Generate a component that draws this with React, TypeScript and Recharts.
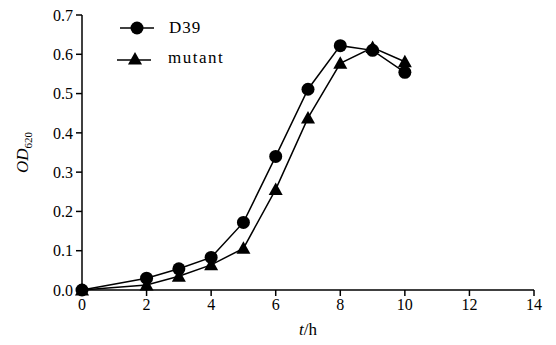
import React from 'react';
import { LineChart, Line, XAxis, YAxis } from 'recharts';

const hours = [0, 2, 3, 4, 5, 6, 7, 8, 9, 10];
const d39 = [0, 0.03, 0.054, 0.083, 0.172, 0.34, 0.511, 0.622, 0.61, 0.554];
const mutant = [0, 0.013, 0.035, 0.064, 0.106, 0.256, 0.438, 0.577, 0.617, 0.581];
const xTicks = [0, 2, 4, 6, 8, 10, 12, 14];
const yTicks = [0, 0.1, 0.2, 0.3, 0.4, 0.5, 0.6, 0.7];

const data = hours.map((h, i) => ({ t: h, d39: d39[i], mutant: mutant[i] }));

const FONT = '"Liberation Serif", "Times New Roman", serif';
const tickStyle = { fontSize: 16, fill: '#000', fontFamily: FONT };

const Triangle = (props: any) => {
  const { cx, cy, index } = props;
  if (cx == null || cy == null) return null;
  return (
    <path
      key={`tri-${index}`}
      d={`M${cx},${cy - 7} L${cx + 7},${cy + 5.5} L${cx - 7},${cy + 5.5} Z`}
      fill="#000"
    />
  );
};

const Dot = (props: any) => {
  const { cx, cy, index } = props;
  if (cx == null || cy == null) return null;
  return <circle key={`dot-${index}`} cx={cx} cy={cy} r={6.5} fill="#000" />;
};

const LegendBox = () => (
  <div
    style={{
      position: 'absolute',
      left: 117,
      top: 13,
      fontFamily: FONT,
      fontSize: 17,
      color: '#000',
      lineHeight: '20px',
    }}
  >
    <div style={{ display: 'flex', alignItems: 'center', height: 30 }}>
      <svg width={40} height={20}>
        <line x1={3} y1={10} x2={37} y2={10} stroke="#000" strokeWidth={1.5} />
        <circle cx={20} cy={10} r={6.5} fill="#000" />
      </svg>
      <span style={{ marginLeft: 12, letterSpacing: 1 }}>D39</span>
    </div>
    <div style={{ display: 'flex', alignItems: 'center', height: 30 }}>
      <svg width={40} height={20}>
        <line x1={0} y1={12} x2={34} y2={12} stroke="#000" strokeWidth={1.5} />
        <path d="M18,4 L25,16.5 L11,16.5 Z" fill="#000" />
      </svg>
      <span style={{ marginLeft: 11, letterSpacing: 1.5 }}>mutant</span>
    </div>
  </div>
);

export default function App() {
  return (
    <div style={{ position: 'absolute', left: 0, top: 0, width: 556, height: 345, background: '#fff' }}>
      <LineChart
        width={556}
        height={345}
        data={data}
        margin={{ top: 15, right: 22, bottom: 25, left: 0 }}
      >
        <XAxis
          dataKey="t"
          type="number"
          domain={[0, 14]}
          ticks={xTicks}
          height={30}
          tick={tickStyle}
          tickSize={6}
          tickMargin={3}
          stroke="#000"
          strokeWidth={1.5}
          label={(p: any) => {
            const vb = p.viewBox;
            return (
              <text
                x={vb.x + vb.width / 2}
                y={vb.y + 45}
                textAnchor="middle"
                fontFamily={FONT}
                fontSize={17}
                fill="#000"
              >
                <tspan fontStyle="italic">t</tspan>/h
              </text>
            );
          }}
        />
        <YAxis
          type="number"
          domain={[0, 0.7]}
          ticks={yTicks}
          width={82}
          tick={tickStyle}
          tickSize={6}
          tickMargin={3}
          tickFormatter={(v: number) => v.toFixed(1)}
          stroke="#000"
          strokeWidth={1.5}
          label={(p: any) => {
            const vb = p.viewBox;
            const cx = 28;
            const cy = vb.y + vb.height / 2;
            return (
              <text
                transform={`rotate(-90 ${cx} ${cy})`}
                x={cx}
                y={cy}
                textAnchor="middle"
                fontFamily={FONT}
                fontSize={17}
                fill="#000"
              >
                <tspan fontStyle="italic">OD</tspan>
                <tspan fontSize={11} dy={4}>620</tspan>
              </text>
            );
          }}
        />
        <Line
          dataKey="d39"
          name="D39"
          stroke="#000"
          strokeWidth={1.5}
          dot={<Dot />}
          isAnimationActive={false}
        />
        <Line
          dataKey="mutant"
          name="mutant"
          stroke="#000"
          strokeWidth={1.5}
          dot={<Triangle />}
          isAnimationActive={false}
        />
      </LineChart>
      <LegendBox />
    </div>
  );
}
